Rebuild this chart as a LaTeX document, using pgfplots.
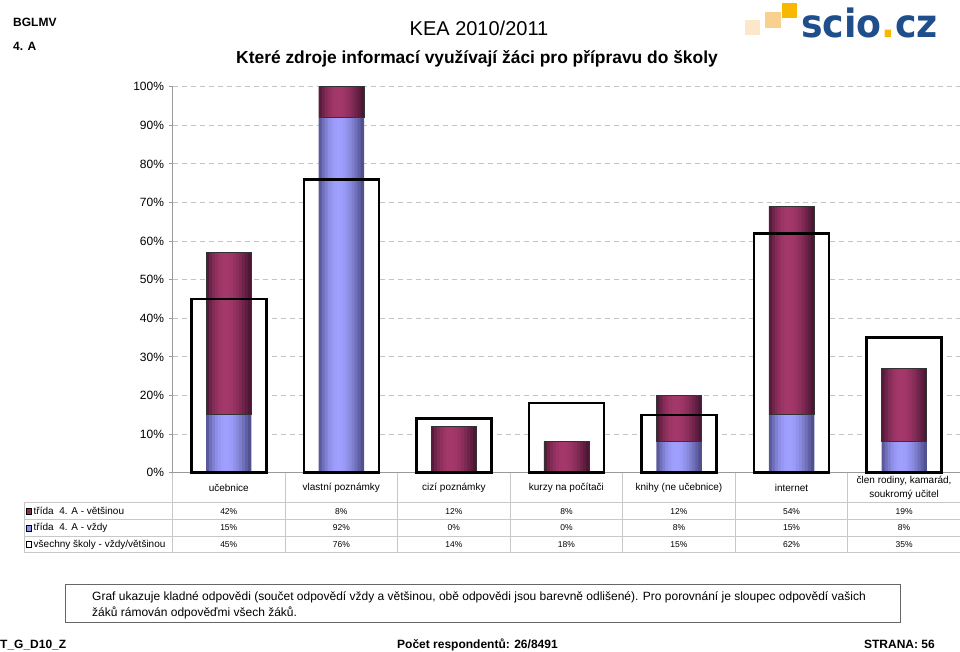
\documentclass[border=0pt]{standalone}
\usepackage{pgfplots}
\usepackage{pgfplotstable}
\pgfplotsset{compat=1.18}
\usepackage{fontspec}
\setmainfont{Liberation Sans}
\newfontfamily\logofont[FakeStretch=0.93]{DejaVu Sans}
\definecolor{marM}{HTML}{A5386B}
\definecolor{marE}{HTML}{461430}
\definecolor{bluM}{HTML}{A0A0FF}
\definecolor{bluE}{HTML}{4A4A86}
\definecolor{gridc}{HTML}{C4C4C4}
\definecolor{tabc}{HTML}{C8C8C8}
\definecolor{scioB}{HTML}{1F4E8C}
\definecolor{scioY}{HTML}{F9B800}
\definecolor{scioM}{HTML}{F8D18E}
\definecolor{scioL}{HTML}{FCE8C8}

\pgfplotstableread{
x vzdy vetsinou vsechny
0 15 42 45
1 92 8 76
2 0 12 14
3 0 8 18
4 8 12 15
5 15 54 62
6 8 19 35
}\data

\pgfplotsset{base/.style={scale only axis, width=788pt, height=386pt,
  xmin=-0.5, xmax=6.5, ymin=0, ymax=100, clip=false,
  at={(172.5pt,178.3pt)}, anchor=south west}}

\begin{document}
\begin{tikzpicture}
\useasboundingbox (0,0) rectangle (960pt,651pt);
% axis 1: grid, axes, white fill of the all-schools frames
\begin{axis}[base,
  ytick={0,10,...,100},
  yticklabels={0\%,10\%,20\%,30\%,40\%,50\%,60\%,70\%,80\%,90\%,100\%},
  yticklabel style={font=\fontsize{12}{12}\selectfont, xshift=-1pt},
  xtick=\empty,
  ymajorgrids, grid style={dash pattern=on 5pt off 4pt, gridc, line width=0.8pt},
  axis x line*=bottom, axis y line*=left,
  axis line style={draw=black!40, -, line width=0.8pt},
  tick style={draw=black!40, line width=0.8pt},
  tick align=outside, major tick length=4pt]
\addplot[ybar, bar width=75pt, fill=white, draw=none] table[x=x, y=vsechny]{\data};
\draw[black!40, line width=0.8pt] (axis cs:-0.5,0) -- (axis cs:6.5,0);
\end{axis}
% stacked coloured bars, drawn as 15 vertical strips for the cylinder shading
\foreach \i in {0,...,14} {
  \pgfmathsetmacro{\s}{-21+3*\i}
  \pgfmathtruncatemacro{\p}{100*sin(180*((\i+0.5)/15)^0.85)}
  \begin{axis}[base, hide axis, ybar stacked, bar width=3.4pt]
  \addplot[fill=bluM!\p!bluE, draw=none, bar shift=\s pt] table[x=x, y=vzdy]{\data};
  \addplot[fill=marM!\p!marE, draw=none, bar shift=\s pt] table[x=x, y=vetsinou]{\data};
  \end{axis}
}
% thin outlines of the coloured segments
\begin{axis}[base, hide axis, ybar stacked, bar width=45pt]
\addplot[fill=none, draw=none] table[x=x, y=vzdy]{\data};
\addplot[fill=none, draw=black!80, line width=0.7pt] table[x=x, y=vetsinou]{\data};
\end{axis}
% all-schools frames on top
\begin{axis}[base, hide axis]
\addplot[ybar, bar width=75pt, fill=none, draw=black, line width=2.5pt] table[x=x, y=vsechny]{\data};
\end{axis}

\begin{scope}[x=1pt, y=-1pt, shift={(0pt,651pt)}]
% table grid
\foreach \k in {0,...,7} {
  \draw[tabc, line width=0.8pt] ({172.5+112.55*\k},472.7) -- ({172.5+112.55*\k},552.5);
}
\draw[tabc, line width=0.8pt] (24,502.7) -- (960,502.7);
\draw[tabc, line width=0.8pt] (24,519.3) -- (960,519.3);
\draw[tabc, line width=0.8pt] (24,536) -- (960,536);
\draw[tabc, line width=0.8pt] (24,552.5) -- (960,552.5);
\draw[tabc, line width=0.8pt] (24,502.7) -- (24,552.5);
% category names
\def\cx#1{{172.5+112.55*(#1+0.5)}}
\foreach \k/\t in {0/učebnice,1/vlastní poznámky,2/cizí poznámky,3/kurzy na počítači,4/knihy (ne učebnice),5/internet} {
  \node[font=\fontsize{10}{12}\selectfont, inner sep=0] at (\cx{\k},487.5) {\t};
}
\node[font=\fontsize{10}{13.5}\selectfont, inner sep=0, align=center] at (\cx{6},488) {člen rodiny, kamarád,\\soukromý učitel};
% values
\foreach \k/\a/\b/\c in {0/42/15/45,1/8/92/76,2/12/0/14,3/8/0/18,4/12/8/15,5/54/15/62,6/19/8/35} {
  \node[font=\fontsize{8.5}{10}\selectfont, inner sep=0] at (\cx{\k},511.3) {\a\%};
  \node[font=\fontsize{8.5}{10}\selectfont, inner sep=0] at (\cx{\k},528) {\b\%};
  \node[font=\fontsize{8.5}{10}\selectfont, inner sep=0] at (\cx{\k},544.5) {\c\%};
}
% legend keys
\filldraw[fill=marM!85!black, draw=black, line width=0.6pt] (26,508) rectangle (31.5,514.5);
\filldraw[fill=bluM!92!black, draw=black, line width=0.6pt] (26,524.8) rectangle (31.5,531.3);
\filldraw[fill=white, draw=black, line width=1.6pt] (26.3,541.3) rectangle (31.5,547.3);
\node[font=\fontsize{10}{12}\selectfont, inner sep=0, anchor=west] at (33.5,511.3) {třída\ \ 4. A - většinou};
\node[font=\fontsize{10}{12}\selectfont, inner sep=0, anchor=west] at (33.5,528) {třída\ \ 4. A - vždy};
\node[font=\fontsize{10}{12}\selectfont, inner sep=0, anchor=west] at (33.5,544.5) {všechny školy - vždy/většinou};

% header
\node[font=\bfseries\fontsize{12}{12}\selectfont, inner sep=0, anchor=base west] at (13,27) {BGLMV};
\node[font=\bfseries\fontsize{12}{12}\selectfont, inner sep=0, anchor=base west] at (13,51) {4. A};
\node[font=\fontsize{20}{20}\selectfont, inner sep=0, anchor=base] at (479,35.5) {KEA 2010/2011};
\node[font=\bfseries\fontsize{17.4}{17.4}\selectfont, inner sep=0, anchor=base] at (477,63.3) {Které zdroje informací využívají žáci pro přípravu do školy};
% logo
\fill[scioL] (745,20) rectangle (760,35);
\fill[scioM] (765,12) rectangle (781,28);
\fill[scioY] (782,3) rectangle (797,18);
\node[font=\logofont\bfseries\fontsize{39}{39}\selectfont, inner sep=0, anchor=base west, text=scioB] at (801,37.5) {scio{\color{scioY}.}cz};

% note box
\draw[black!60, line width=0.9pt] (65,584.5) rectangle (900,622);
\node[font=\fontsize{12}{16}\selectfont, inner sep=0, anchor=base west] at (92,600) {Graf ukazuje kladné odpovědi (součet odpovědí vždy a většinou, obě odpovědi jsou barevně odlišené). Pro porovnání je sloupec odpovědí vašich};
\node[font=\fontsize{12}{16}\selectfont, inner sep=0, anchor=base west] at (92,616) {žáků rámován odpověďmi všech žáků.};
% footer
\node[font=\bfseries\fontsize{12}{16}\selectfont, inner sep=0, anchor=base west] at (0,648) {T\_G\_D10\_Z};
\node[font=\bfseries\fontsize{12}{16}\selectfont, inner sep=0, anchor=base west] at (397,648) {Počet respondentů: 26/8491};
\node[font=\bfseries\fontsize{12}{16}\selectfont, inner sep=0, anchor=base east] at (935,648) {STRANA: 56};
\end{scope}
\end{tikzpicture}
\end{document}
